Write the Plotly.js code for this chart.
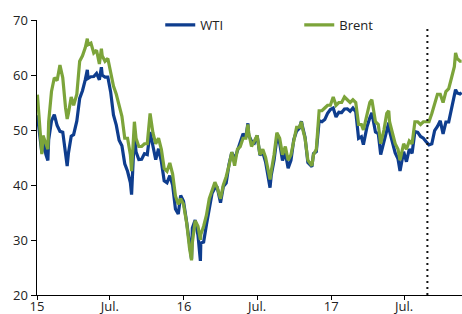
<!DOCTYPE html>
<html>
<head>
<meta charset="utf-8">
<script src="https://cdn.plot.ly/plotly-3.0.1.min.js"></script>
<style>html,body{margin:0;padding:0;background:#fff;}#chart{width:462px;height:314px;}</style>
</head>
<body>
<div id="chart"></div>
<script>
const dates = [
"2015-01-02","2015-01-09","2015-01-13","2015-01-16","2015-01-23","2015-01-28","2015-01-30","2015-02-06","2015-02-13","2015-02-20","2015-02-27",
"2015-03-06","2015-03-13","2015-03-17","2015-03-20","2015-03-27","2015-04-02","2015-04-10","2015-04-17","2015-04-24","2015-05-01","2015-05-06",
"2015-05-08","2015-05-15","2015-05-22","2015-05-29","2015-06-05","2015-06-10","2015-06-12","2015-06-19","2015-06-26","2015-07-03","2015-07-10",
"2015-07-17","2015-07-24","2015-07-31","2015-08-07","2015-08-14","2015-08-21","2015-08-24","2015-08-31","2015-09-04","2015-09-11","2015-09-18",
"2015-09-25","2015-10-02","2015-10-09","2015-10-16","2015-10-23","2015-10-30","2015-11-06","2015-11-13","2015-11-20","2015-11-27","2015-12-04",
"2015-12-11","2015-12-18","2015-12-24","2015-12-31",
"2016-01-08","2016-01-15","2016-01-20","2016-01-22","2016-01-29","2016-02-05","2016-02-11","2016-02-12","2016-02-19","2016-02-26","2016-03-04",
"2016-03-11","2016-03-18","2016-03-24","2016-04-01","2016-04-08","2016-04-15","2016-04-22","2016-04-29","2016-05-06","2016-05-13","2016-05-20",
"2016-05-27","2016-06-03","2016-06-08","2016-06-10","2016-06-17","2016-06-24","2016-07-01","2016-07-08","2016-07-15","2016-07-22","2016-07-29",
"2016-08-02","2016-08-05","2016-08-12","2016-08-19","2016-08-26","2016-09-02","2016-09-09","2016-09-16","2016-09-23","2016-09-30","2016-10-07",
"2016-10-14","2016-10-19","2016-10-21","2016-10-28","2016-11-04","2016-11-14","2016-11-18","2016-11-25","2016-12-02","2016-12-09","2016-12-16",
"2016-12-23","2016-12-30",
"2017-01-06","2017-01-13","2017-01-20","2017-01-27","2017-02-03","2017-02-10","2017-02-17","2017-02-24","2017-03-03","2017-03-10","2017-03-17",
"2017-03-22","2017-03-31","2017-04-07","2017-04-12","2017-04-21","2017-04-28","2017-05-04","2017-05-12","2017-05-19","2017-05-24","2017-05-26",
"2017-06-02","2017-06-09","2017-06-16","2017-06-21","2017-06-30","2017-07-07","2017-07-14","2017-07-21","2017-07-28","2017-08-04","2017-08-11",
"2017-08-18","2017-08-25","2017-09-01","2017-09-08","2017-09-15","2017-09-22","2017-09-29","2017-10-06","2017-10-13","2017-10-20","2017-10-27",
"2017-11-03","2017-11-06","2017-11-10","2017-11-17","2017-11-21"
];
const wti = [
52.69,48.36,45.89,48.69,45.59,44.45,48.24,51.69,52.78,50.81,49.76,
49.61,44.84,43.46,45.72,48.87,49.14,51.64,55.74,57.15,59.15,60.93,
59.39,59.69,59.72,60.30,59.13,61.43,59.96,59.61,59.63,56.93,52.74,
50.89,48.14,47.12,43.87,42.50,40.45,38.24,49.20,46.05,44.63,44.68,
45.70,45.54,49.63,47.26,44.60,46.59,44.29,40.74,40.39,41.71,39.97,
35.62,34.73,38.10,37.04,
33.16,29.42,26.55,32.19,33.62,30.89,26.21,29.44,29.64,32.78,35.92,
38.50,39.44,39.46,36.79,39.72,40.36,43.73,45.92,44.66,46.21,47.75,
49.33,48.62,51.23,49.07,47.98,47.64,48.99,45.41,45.95,44.19,41.60,
39.51,41.80,44.49,48.52,47.64,44.44,45.88,43.03,44.48,48.24,49.81,
50.35,51.60,50.85,48.70,44.07,43.32,45.69,46.06,51.68,51.50,51.90,
53.02,53.72,
53.99,52.37,53.22,53.17,53.83,53.86,53.40,53.99,53.33,48.49,48.78,
47.34,50.60,52.24,53.11,49.62,49.33,45.52,47.84,50.33,51.36,49.80,
47.66,45.83,44.74,42.53,46.04,44.23,46.54,45.77,49.71,49.58,48.82,
48.51,47.87,47.29,47.48,49.89,50.66,51.67,49.29,51.45,51.47,53.90,
55.64,57.35,56.74,56.55,56.80
];
const brent = [
56.42,50.11,45.60,49.00,47.50,46.50,51.50,57.00,59.50,59.00,61.80,
59.50,54.00,52.00,53.00,56.00,54.50,56.50,62.50,63.50,65.00,66.60,
65.50,65.80,64.00,64.50,62.00,64.80,63.50,62.50,63.00,60.50,58.00,
56.50,54.50,52.50,48.50,48.50,45.50,42.50,51.50,48.50,47.00,47.00,
47.50,47.50,53.00,49.50,47.50,48.50,46.50,43.00,42.50,44.00,42.00,
38.00,36.50,37.50,36.50,
33.00,28.50,26.30,29.50,33.50,32.50,30.00,31.00,32.50,34.50,37.50,
39.00,40.50,39.50,37.50,40.00,41.50,43.50,46.00,43.50,46.50,47.00,
48.50,48.50,51.00,49.50,47.00,48.00,49.00,45.50,46.50,45.00,42.00,
41.00,42.50,45.50,49.50,48.50,45.50,47.00,44.50,45.50,48.00,50.50,
50.50,51.50,50.50,48.50,44.50,43.50,45.50,46.50,53.50,53.50,54.00,
54.50,54.50,
56.00,54.50,55.00,55.00,56.00,55.50,55.00,55.50,55.00,51.00,51.00,
50.00,52.50,55.00,55.50,51.50,51.00,47.50,50.00,53.00,53.50,51.50,
49.50,47.50,46.50,44.50,47.50,46.50,48.00,47.50,51.50,51.50,51.00,
51.50,51.50,51.50,53.00,55.00,56.50,56.50,55.00,57.00,57.50,59.50,
61.50,64.00,63.00,62.50,62.50
];
const xTickVals = ["2015-01-01","2015-07-01","2016-01-01","2016-07-01","2017-01-01","2017-07-01"];
const xTickText = ["15","Jul.","16","Jul.","17","Jul."];
const yTickVals = [20,30,40,50,60,70];
const markerDate = "2017-08-28";

const FONT = "Open Sans, Noto Sans, sans-serif";
const traces = [
  {x: dates, y: wti, name: "WTI", type: "scatter", mode: "lines",
   line: {color: "#0e3d8e", width: 3.2}},
  {x: dates, y: brent, name: "Brent", type: "scatter", mode: "lines",
   line: {color: "#7ca43a", width: 3.2}}
];
const layout = {
  width: 462, height: 314,
  margin: {l: 37, r: 0, t: 20, b: 19, pad: 0},
  paper_bgcolor: "#fff", plot_bgcolor: "#fff",
  font: {family: FONT, size: 13, color: "#222"},
  showlegend: true,
  legend: {orientation: "h", x: 0.29, y: 0.982, xanchor: "left", yanchor: "middle",
           bgcolor: "rgba(0,0,0,0)", font: {family: FONT, size: 13, color: "#222"},
           entrywidth: 94, entrywidthmode: "pixels"},
  xaxis: {type: "date", range: ["2015-01-01", "2017-11-22"], tickmode: "array",
          tickvals: xTickVals, ticktext: xTickText, ticks: "outside", ticklen: 4,
          tickwidth: 1, tickcolor: "#000", showline: true, linecolor: "#000", linewidth: 1,
          ticklabelstandoff: -5,
          showgrid: false, zeroline: false, tickfont: {family: FONT, size: 13, color: "#222"}},
  yaxis: {range: [20, 70], tickmode: "array", tickvals: yTickVals, ticks: "outside",
          ticklen: 5, tickwidth: 1, tickcolor: "#000", showline: true, linecolor: "#000",
          linewidth: 1.5, showgrid: false, zeroline: false,
          tickfont: {family: FONT, size: 13, color: "#222"}},
  shapes: [{type: "line", xref: "x", yref: "y", x0: markerDate, x1: markerDate, y0: 20, y1: 69,
            line: {color: "#111", width: 2, dash: "2px,4px"}}]
};
Plotly.newPlot("chart", traces, layout, {displayModeBar: false, staticPlot: true});
</script>
</body>
</html>
